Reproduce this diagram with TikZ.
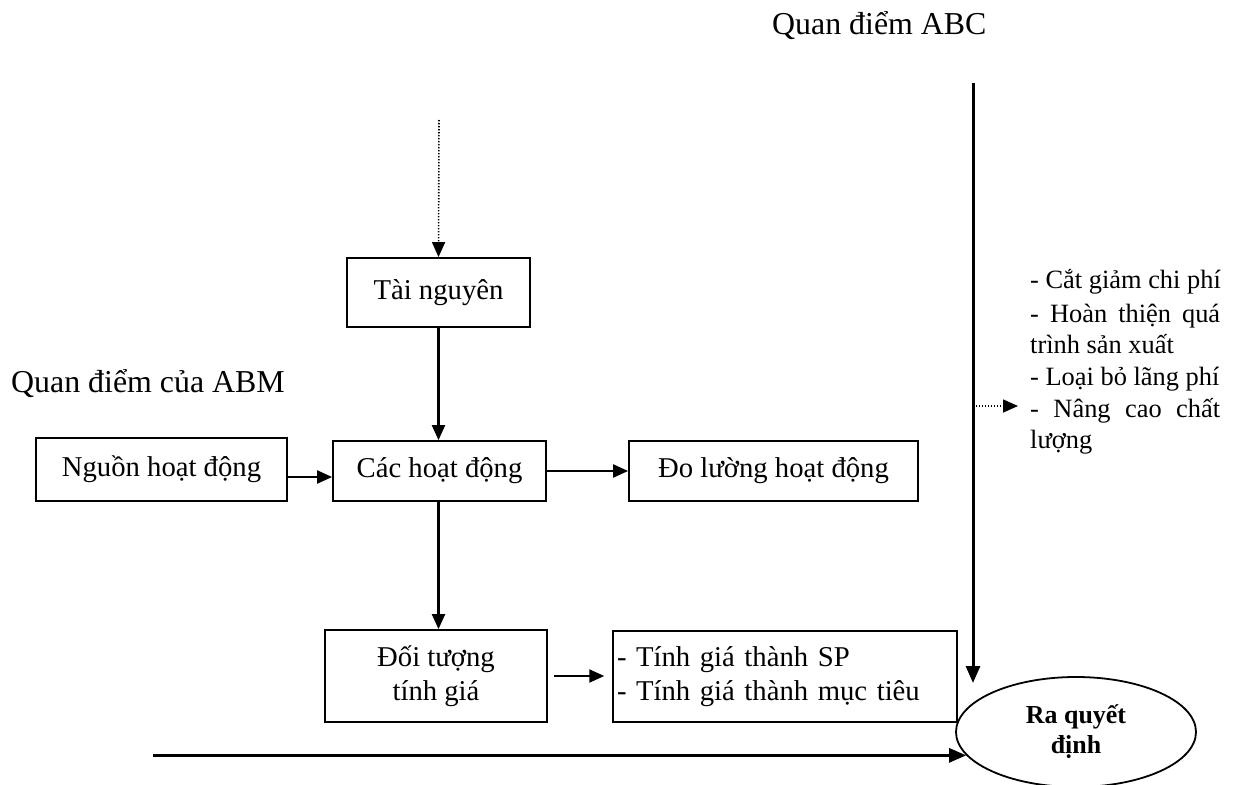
\documentclass[tikz,border=0pt]{standalone}
\usepackage{fontspec}
\setmainfont{Liberation Serif}
\usetikzlibrary{arrows.meta,shapes.geometric}
\begin{document}
\begin{tikzpicture}[x=1bp,y=-1bp,
  box/.style={draw, line width=1.8bp, inner sep=0pt, font=\fontsize{28.8}{34}\selectfont},
  arr/.style={line width=2.2bp, -{Triangle[length=15bp,width=13bp]}},
  dotarr/.style={line width=1.6bp, dash pattern=on 1.4bp off 1.6bp, -{Triangle[length=15bp,width=13bp]}},
  lbl/.style={anchor=base west, inner sep=0pt, font=\fontsize{32}{38}\selectfont},
  item/.style={anchor=base west, inner sep=0pt, font=\fontsize{26.5}{32}\selectfont}]
\useasboundingbox (0,0) rectangle (1242,785);

% headings
\node[lbl] (abcLabel) at (772,35) {Quan điểm ABC};
\node[lbl] (abmLabel) at (11,392) {Quan điểm của ABM};

% boxes
\node[box, minimum width=183bp, minimum height=69bp] (tai) at (438.5,292.5) {Tài nguyên};
\node[box, minimum width=213bp, minimum height=60bp] (cac) at (439.5,471) {Các hoạt động};
\node[box, minimum width=251bp, minimum height=63bp] (ngu) at (161.5,469.5) {Nguồn hoạt động};
\node[box, minimum width=289bp, minimum height=60bp] (dol) at (773.5,471) {Đo lường hoạt động};
\node[box, minimum width=222bp, minimum height=92bp, align=center] (doi) at (436,676) {Đối tượng\\tính giá};
\node[box, line width=1.5bp, minimum width=344bp, minimum height=91bp, align=left, text width=336bp] (tinh) at (785,676.5) {- Tính giá thành SP\\- Tính giá thành mục tiêu};
\node[draw, ellipse, line width=1.8bp, minimum width=240bp, minimum height=110bp, inner sep=0pt, align=center,
      font=\fontsize{26}{30}\selectfont\bfseries] (dec) at (1076,732) {Ra quyết\\định};

% list of goals on the right
\node[item] (r1) at (1030,288) {- Cắt giảm chi phí};
\node[item] (r2) at (1030,322) {\makebox[190bp][s]{- Hoàn thiện quá}};
\node[item] (r3) at (1030,353) {trình sản xuất};
\node[item] (r4) at (1030,385) {- Loại bỏ lãng phí};
\node[item] (r5) at (1030,417) {\makebox[190bp][s]{- Nâng cao chất}};
\node[item] (r6) at (1030,448) {lượng};

% free ends
\coordinate (resTop) at (439,120);
\coordinate (abcTop) at (973,83);
\coordinate (abcEnd) at (973,683);
\coordinate (qualTip) at (1018,406);
\coordinate (bottomStart) at (153,0);
\coordinate (nguOut) at ([yshift=-7.5bp]ngu.east);

% connectors
\draw[dotarr] (resTop) -- (tai.north);
\draw[arr] (tai.south) -- (tai.south |- cac.north);
\draw[arr] (nguOut) -- (nguOut -| cac.west);
\draw[arr] (cac.east) -- (dol.west);
\draw[arr] (cac.south -| tai.south) -- (doi.north -| tai.south);
\draw[arr, shorten <=6bp, shorten >=8bp] (doi.east) -- (doi.east -| tinh.west);
\draw[line width=3bp, -{Triangle[length=17bp,width=14bp]}] (abcTop) -- (abcEnd);
\draw[dotarr] (abcTop |- qualTip) -- (qualTip);
\draw[line width=2.8bp, -{Triangle[length=17bp,width=14bp]}] (dec.192 -| bottomStart) -- (dec.192);
\end{tikzpicture}
\end{document}
